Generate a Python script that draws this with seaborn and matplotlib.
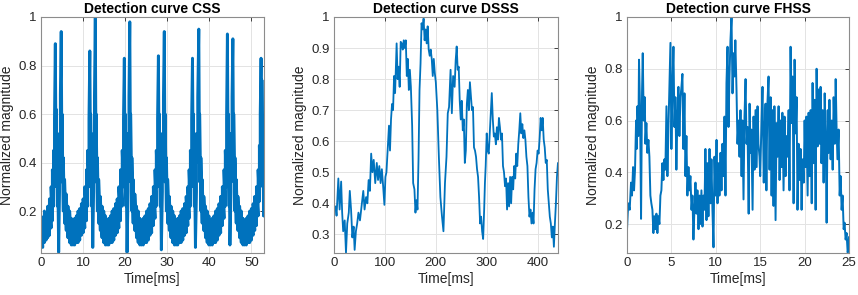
import numpy as np
import pandas as pd
import matplotlib
matplotlib.use("Agg")
import matplotlib.pyplot as plt
from matplotlib.ticker import FuncFormatter
import seaborn as sns

# ---------- datos ----------
# CSS: banda densa -> tiempo, borde inferior y superior (picos/valles con low == high)
css_time = [0.0, 0.4, 0.8, 1.2, 1.6, 2.0, 2.4, 2.7, 3.0, 3.2, 3.4, 3.6, 3.9, 4.2, 4.4, 4.6, 4.8, 5.0, 5.3, 5.6,
            6.0, 6.4, 6.8, 7.2, 7.6, 8.0, 8.4, 8.8, 9.2, 9.6, 10.0, 10.4, 10.8, 11.1, 11.4, 11.6, 11.8, 12.05, 12.3, 12.5,
            12.7, 12.9, 13.1, 13.4, 13.7, 14.1, 14.5, 14.9, 15.3, 15.7, 16.1, 16.5, 16.9, 17.3, 17.7, 18.1, 18.5, 18.9, 19.3, 19.6,
            19.8, 20.0, 20.2, 20.45, 20.7, 20.9, 21.1, 21.3, 21.6, 21.9, 22.3, 22.7, 23.1, 23.5, 23.9, 24.3, 24.7, 25.1, 25.5, 25.9,
            26.3, 26.7, 27.1, 27.4, 27.7, 27.9, 28.1, 28.35, 28.6, 28.85, 29.1, 29.3, 29.5, 29.8, 30.1, 30.5, 30.9, 31.3, 31.7, 32.1,
            32.5, 32.9, 33.3, 33.7, 34.1, 34.5, 34.9, 35.2, 35.5, 35.8, 36.0, 36.2, 36.45, 36.7, 36.95, 37.25, 37.5, 37.7, 38.0, 38.3,
            38.7, 39.1, 39.5, 39.9, 40.3, 40.7, 41.1, 41.5, 41.9, 42.3, 42.7, 43.1, 43.5, 43.8, 44.1, 44.3, 44.5, 44.7, 44.9, 45.15,
            45.4, 45.6, 45.8, 46.1, 46.4, 46.8, 47.2, 47.6, 48.0, 48.4, 48.8, 49.2, 49.6, 50.0, 50.4, 50.8, 51.2, 51.6, 51.9, 52.1,
            52.3, 52.5, 52.7, 52.9, 53.0]
css_low = [0.06, 0.05, 0.07, 0.08, 0.09, 0.10, 0.13, 0.16, 0.22, 0.30, 0.89, 0.35, 0.22, 0.03, 0.28, 0.40, 0.94, 0.32, 0.20, 0.15,
           0.12, 0.09, 0.07, 0.06, 0.06, 0.06, 0.07, 0.07, 0.08, 0.10, 0.11, 0.13, 0.16, 0.22, 0.30, 0.86, 0.35, 0.22, 0.05, 0.28,
           0.40, 1.00, 0.32, 0.20, 0.15, 0.12, 0.09, 0.07, 0.06, 0.06, 0.06, 0.07, 0.07, 0.08, 0.10, 0.11, 0.13, 0.16, 0.22, 0.30,
           0.83, 0.35, 0.22, 0.03, 0.28, 0.40, 0.98, 0.32, 0.20, 0.15, 0.12, 0.09, 0.07, 0.06, 0.06, 0.06, 0.07, 0.07, 0.08, 0.10,
           0.11, 0.14, 0.17, 0.22, 0.30, 0.84, 0.35, 0.22, 0.04, 0.28, 0.40, 0.94, 0.32, 0.20, 0.15, 0.12, 0.09, 0.07, 0.06, 0.06,
           0.06, 0.07, 0.07, 0.08, 0.10, 0.11, 0.14, 0.17, 0.22, 0.30, 0.83, 0.35, 0.22, 0.05, 0.28, 0.40, 0.95, 0.32, 0.20, 0.15,
           0.12, 0.09, 0.07, 0.06, 0.06, 0.06, 0.07, 0.07, 0.08, 0.10, 0.11, 0.14, 0.17, 0.22, 0.30, 0.93, 0.35, 0.22, 0.06, 0.28,
           0.40, 0.91, 0.32, 0.20, 0.15, 0.12, 0.09, 0.07, 0.06, 0.06, 0.06, 0.07, 0.07, 0.08, 0.10, 0.12, 0.14, 0.18, 0.24, 0.32,
           0.83, 0.40, 0.30, 0.18, 0.18]
css_high = [0.18, 0.16, 0.20, 0.19, 0.22, 0.25, 0.30, 0.37, 0.45, 0.58, 0.89, 0.62, 0.45, 0.03, 0.52, 0.68, 0.94, 0.60, 0.42, 0.33,
            0.27, 0.22, 0.20, 0.17, 0.16, 0.17, 0.18, 0.20, 0.21, 0.23, 0.25, 0.30, 0.37, 0.45, 0.58, 0.86, 0.60, 0.45, 0.05, 0.52,
            0.67, 1.00, 0.60, 0.42, 0.33, 0.26, 0.22, 0.20, 0.18, 0.16, 0.17, 0.18, 0.20, 0.21, 0.23, 0.25, 0.30, 0.37, 0.45, 0.58,
            0.83, 0.60, 0.45, 0.03, 0.52, 0.67, 0.98, 0.60, 0.42, 0.33, 0.27, 0.22, 0.20, 0.17, 0.16, 0.17, 0.18, 0.20, 0.21, 0.23,
            0.26, 0.30, 0.37, 0.45, 0.58, 0.84, 0.60, 0.45, 0.04, 0.52, 0.67, 0.94, 0.60, 0.42, 0.33, 0.26, 0.22, 0.20, 0.18, 0.16,
            0.17, 0.18, 0.20, 0.21, 0.23, 0.26, 0.30, 0.37, 0.45, 0.58, 0.83, 0.60, 0.45, 0.05, 0.52, 0.67, 0.95, 0.60, 0.42, 0.33,
            0.26, 0.22, 0.20, 0.18, 0.16, 0.17, 0.18, 0.20, 0.21, 0.23, 0.26, 0.30, 0.37, 0.45, 0.58, 0.93, 0.60, 0.45, 0.06, 0.52,
            0.67, 0.91, 0.60, 0.42, 0.33, 0.26, 0.22, 0.20, 0.17, 0.16, 0.17, 0.18, 0.20, 0.21, 0.23, 0.26, 0.30, 0.37, 0.47, 0.60,
            0.83, 0.74, 0.55, 0.50, 0.18]

# DSSS
dsss_time = [0, 3, 5, 8.5, 11, 14, 16, 18, 21, 23.5, 26, 29, 31, 33.5, 36, 38.5, 40.5, 43, 45.5, 48,
             51, 54, 57.5, 60, 63, 65.5, 68, 70.5, 73, 75.5, 78, 81, 84, 86.5, 89, 91.5, 94, 96.5, 99, 101,
             103, 106, 108, 110, 112, 114, 116, 118, 120, 121.5, 123, 125, 127, 129, 131, 133, 135, 137, 139, 141,
             143, 145, 147, 149, 151, 153.5, 155.5, 158, 160, 162, 164, 166, 168, 170, 172, 174, 176, 178, 180, 182,
             184, 186, 188, 190, 192, 194, 196, 198, 200, 203, 206, 209, 212, 215, 218, 221, 223.5, 226, 229, 231.5,
             234, 237, 239, 241, 243, 245, 247, 249, 251, 253, 255, 257, 259, 261, 263, 265, 267, 269, 271, 273,
             275, 277, 279, 281, 283, 285, 287, 289, 291, 293, 295, 296.5, 298, 300, 302, 304, 306, 308, 310, 312,
             314, 316, 318, 320, 322, 324, 326, 328, 330, 332, 334, 336, 338, 340, 342, 344, 346, 348, 350, 352,
             354, 356, 358, 360, 362, 364, 366, 368, 370, 372, 374, 376, 378, 380, 382, 384, 386, 388, 390, 392,
             394, 396, 398, 400, 402, 404, 406, 408, 410, 412, 414, 416, 418, 420, 422, 424, 426, 428, 430, 432,
             434, 436, 438, 440]
dsss_val = [0.38, 0.39, 0.36, 0.48, 0.38, 0.47, 0.37, 0.31, 0.345, 0.24, 0.335, 0.37, 0.44, 0.38, 0.29, 0.325, 0.25, 0.31, 0.335, 0.37,
            0.345, 0.39, 0.44, 0.38, 0.42, 0.40, 0.475, 0.44, 0.56, 0.50, 0.54, 0.465, 0.53, 0.475, 0.52, 0.465, 0.51, 0.455, 0.395, 0.485,
            0.50, 0.59, 0.65, 0.57, 0.67, 0.72, 0.70, 0.81, 0.755, 0.84, 0.915, 0.80, 0.84, 0.775, 0.92, 0.915, 0.895, 0.925, 0.90, 0.925,
            0.81, 0.865, 0.765, 0.83, 0.775, 0.65, 0.465, 0.445, 0.37, 0.41, 0.38, 0.54, 0.765, 0.85, 0.98, 0.96, 0.995, 0.925, 0.96, 0.915,
            0.97, 0.895, 0.875, 0.895, 0.865, 0.81, 0.865, 0.82, 0.79, 0.70, 0.55, 0.42, 0.36, 0.31, 0.465, 0.55, 0.69, 0.71, 0.83, 0.69,
            0.81, 0.775, 0.86, 0.905, 0.83, 0.84, 0.73, 0.67, 0.73, 0.635, 0.67, 0.53, 0.57, 0.72, 0.765, 0.70, 0.79, 0.745, 0.70, 0.71,
            0.58, 0.57, 0.55, 0.51, 0.485, 0.42, 0.335, 0.357, 0.31, 0.285, 0.38, 0.465, 0.52, 0.625, 0.57, 0.56, 0.625, 0.69, 0.755, 0.67,
            0.615, 0.625, 0.59, 0.645, 0.605, 0.675, 0.645, 0.605, 0.625, 0.52, 0.50, 0.455, 0.48, 0.38, 0.465, 0.39, 0.485, 0.40, 0.485, 0.445,
            0.52, 0.48, 0.56, 0.52, 0.59, 0.635, 0.69, 0.625, 0.655, 0.61, 0.635, 0.605, 0.55, 0.52, 0.42, 0.357, 0.38, 0.335, 0.37, 0.335,
            0.445, 0.51, 0.53, 0.57, 0.56, 0.61, 0.675, 0.635, 0.675, 0.605, 0.58, 0.53, 0.54, 0.445, 0.40, 0.357, 0.335, 0.29, 0.325, 0.26,
            0.335, 0.40, 0.485, 0.53]

# FHSS
fhss_time = [0.0, 0.08, 0.15, 0.3, 0.45, 0.56, 0.68, 0.79, 0.9, 1.02, 1.09, 1.17, 1.28, 1.35, 1.47, 1.58, 1.69, 1.77, 1.88, 2.0,
             2.07, 2.18, 2.29, 2.41, 2.52, 2.63, 2.74, 2.86, 2.97, 3.08, 3.2, 3.31, 3.42, 3.53, 3.65, 3.76, 3.87, 3.98, 4.1, 4.21,
             4.32, 4.44, 4.55, 4.66, 4.77, 4.89, 5.0, 5.11, 5.23, 5.34, 5.45, 5.56, 5.68, 5.79, 5.9, 6.02, 6.13, 6.24, 6.35, 6.47,
             6.58, 6.69, 6.8, 6.92, 7.03, 7.14, 7.26, 7.37, 7.48, 7.59, 7.71, 7.82, 7.93, 8.05, 8.16, 8.27, 8.38, 8.5, 8.61, 8.72,
             8.83, 8.95, 9.06, 9.17, 9.29, 9.4, 9.51, 9.62, 9.74, 9.85, 9.96, 10.08, 10.19, 10.3, 10.41, 10.53, 10.64, 10.75, 10.86, 10.98,
             11.09, 11.2, 11.32, 11.43, 11.54, 11.65, 11.77, 11.88, 12.0, 12.1, 12.2, 12.33, 12.44, 12.56, 12.67, 12.78, 12.9, 13.0, 13.12, 13.23,
             13.35, 13.46, 13.57, 13.7, 13.8, 13.9, 14.0, 14.14, 14.25, 14.36, 14.47, 14.6, 14.7, 14.8, 14.92, 15.0, 15.15, 15.26, 15.4, 15.5,
             15.6, 15.7, 15.8, 15.94, 16.05, 16.17, 16.28, 16.4, 16.5, 16.6, 16.73, 16.84, 16.95, 17.07, 17.18, 17.3, 17.4, 17.5, 17.63, 17.74,
             17.86, 17.97, 18.08, 18.2, 18.3, 18.42, 18.53, 18.65, 18.76, 18.87, 19.0, 19.1, 19.2, 19.32, 19.44, 19.55, 19.66, 19.77, 19.9, 20.0,
             20.1, 20.2, 20.34, 20.45, 20.56, 20.68, 20.8, 20.9, 21.0, 21.13, 21.24, 21.35, 21.47, 21.58, 21.7, 21.8, 21.9, 22.03, 22.14, 22.26,
             22.37, 22.48, 22.6, 22.7, 22.8, 22.93, 23.05, 23.16, 23.27, 23.4, 23.5, 23.6, 23.7, 23.83, 23.95, 24.06, 24.17, 24.28, 24.4, 24.5,
             24.62, 24.73, 24.85, 24.96, 25.0]
fhss_val = [0.18, 0.24, 0.28, 0.255, 0.36, 0.31, 0.42, 0.33, 0.41, 0.60, 0.49, 0.655, 0.54, 0.835, 0.64, 0.22, 0.71, 0.86, 0.60, 0.69,
            0.51, 0.59, 0.475, 0.525, 0.46, 0.31, 0.28, 0.255, 0.165, 0.23, 0.18, 0.24, 0.165, 0.23, 0.20, 0.31, 0.33, 0.435, 0.37, 0.45,
            0.41, 0.655, 0.385, 0.565, 0.72, 0.90, 0.49, 0.73, 0.885, 0.575, 0.69, 0.41, 0.63, 0.73, 0.54, 0.69, 0.73, 0.78, 0.49, 0.705,
            0.385, 0.54, 0.31, 0.42, 0.33, 0.385, 0.255, 0.31, 0.14, 0.255, 0.36, 0.24, 0.33, 0.18, 0.31, 0.20, 0.33, 0.19, 0.31, 0.255,
            0.49, 0.215, 0.435, 0.23, 0.49, 0.28, 0.45, 0.255, 0.11, 0.46, 0.31, 0.525, 0.28, 0.435, 0.31, 0.475, 0.33, 0.51, 0.385, 0.615,
            0.31, 0.745, 0.885, 0.575, 0.77, 0.91, 1.0, 0.705, 0.86, 0.77, 0.91, 0.72, 0.51, 0.60, 0.46, 0.64, 0.385, 0.60, 0.295, 0.615,
            0.76, 0.51, 0.575, 0.24, 0.665, 0.475, 0.565, 0.255, 0.615, 0.41, 0.64, 0.42, 0.655, 0.51, 0.46, 0.385, 0.60, 0.73, 0.36, 0.565,
            0.665, 0.33, 0.655, 0.77, 0.41, 0.69, 0.31, 0.64, 0.27, 0.655, 0.215, 0.59, 0.46, 0.655, 0.37, 0.60, 0.42, 0.63, 0.33, 0.615,
            0.385, 0.54, 0.46, 0.64, 0.33, 0.885, 0.59, 0.77, 0.28, 0.835, 0.55, 0.69, 0.255, 0.51, 0.37, 0.49, 0.255, 0.45, 0.36, 0.60,
            0.42, 0.615, 0.31, 0.63, 0.385, 0.64, 0.28, 0.745, 0.435, 0.68, 0.255, 0.80, 0.50, 0.72, 0.51, 0.73, 0.435, 0.64, 0.36, 0.705,
            0.54, 0.205, 0.64, 0.475, 0.68, 0.45, 0.60, 0.41, 0.69, 0.51, 0.76, 0.575, 0.45, 0.565, 0.31, 0.385, 0.255, 0.31, 0.18, 0.205,
            0.14, 0.165, 0.09, 0.11, 0.15]

# ---------- estilo ----------
sns.set_style("whitegrid")
plt.rcParams["font.family"] = ["Liberation Sans", "DejaVu Sans"]
plt.rcParams.update({"axes.edgecolor": "#8c8c8c", "axes.linewidth": 0.8,
                     "grid.color": "#e3e3e3", "grid.linewidth": 0.7,
                     "xtick.color": "#262626", "ytick.color": "#262626",
                     "text.color": "#000000", "axes.labelcolor": "#262626"})
azul = "#0072BD"

# orden de la banda CSS: bajo, alto, bajo, alto...
css = pd.DataFrame({"t": np.repeat(css_time, 2),
                    "v": np.column_stack([css_low, css_high]).ravel()})
dsss = pd.DataFrame({"t": dsss_time, "v": dsss_val})
fhss = pd.DataFrame({"t": fhss_time, "v": fhss_val})

paneles = [
    (css, "Detection curve CSS", [0.0478, 0.1424, 0.2599, 0.80], (0, 53), (0.027, 1),
     [0, 10, 20, 30, 40, 50], [0.2, 0.4, 0.6, 0.8, 1], 2.1),
    (dsss, "Detection curve DSSS", [0.3893, 0.1424, 0.2610, 0.80], (0, 440), (0.24, 1),
     [0, 100, 200, 300, 400], [0.3, 0.4, 0.5, 0.6, 0.7, 0.8, 0.9, 1], 1.3),
    (fhss, "Detection curve FHSS", [0.7308, 0.1424, 0.2587, 0.80], (0, 25), (0.088, 1),
     [0, 5, 10, 15, 20, 25], [0.2, 0.4, 0.6, 0.8, 1], 1.4),
]

fig = plt.figure(figsize=(8.58, 2.95), dpi=100)
for datos, titulo, pos, xl, yl, xt, yt, grosor in paneles:
    ax = fig.add_axes(pos)
    sns.lineplot(data=datos, x="t", y="v", ax=ax, color=azul, linewidth=grosor,
                 estimator=None, sort=False)
    ax.set_xlim(*xl)
    ax.set_ylim(*yl)
    ax.set_xticks(xt)
    ax.set_yticks(yt)
    fmt = FuncFormatter(lambda v, p: f"{v:g}")
    ax.xaxis.set_major_formatter(fmt)
    ax.yaxis.set_major_formatter(fmt)
    ax.tick_params(direction="in", length=3, width=0.6, labelsize=9.5, pad=3,
                   top=True, right=True, colors="#262626")
    ax.set_title(titulo, fontsize=10, fontweight="bold", pad=3)
    ax.set_xlabel("Time[ms]", fontsize=10, labelpad=2)
    ax.set_ylabel("Normalized magnitude", fontsize=10, labelpad=3)
    for s in ax.spines.values():
        s.set_visible(True)

fig.savefig("out.png", dpi=100)
